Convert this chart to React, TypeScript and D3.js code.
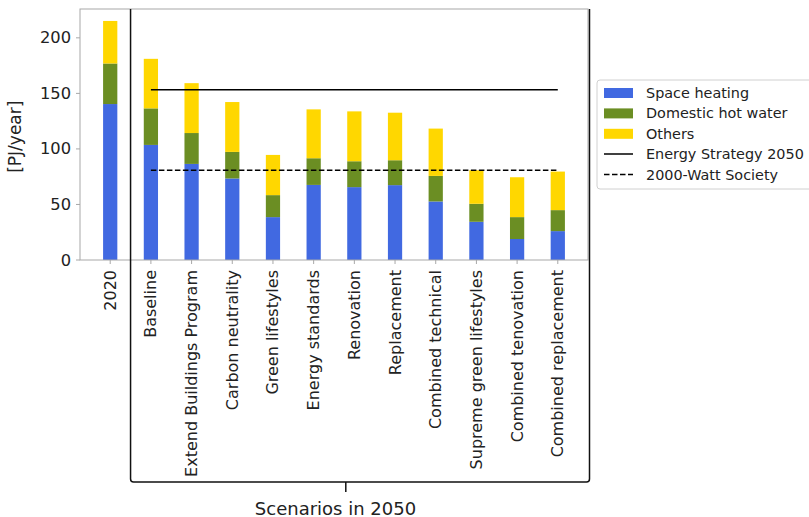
import React from "react";
import * as d3 from "d3";

const categories = [
  "2020",
  "Baseline",
  "Extend Buildings Program",
  "Carbon neutrality",
  "Green lifestyles",
  "Energy standards",
  "Renovation",
  "Replacement",
  "Combined technical",
  "Supreme green lifestyles",
  "Combined tenovation",
  "Combined replacement",
];

// Stacked components, PJ/year
const spaceHeating = [140.4, 103.6, 86.5, 73.4, 38.6, 67.6, 65.6, 67.4, 52.7, 34.4, 18.9, 26.0];
const domesticHotWater = [36.5, 32.9, 27.8, 23.9, 19.8, 24.0, 23.3, 22.4, 23.0, 16.2, 19.7, 18.9];
const others = [38.3, 44.6, 44.9, 44.9, 36.2, 44.0, 44.9, 42.8, 42.6, 30.2, 35.9, 34.7];

const seriesNames = ["Space heating", "Domestic hot water", "Others"];
const seriesColors = ["#4169E1", "#6B8E23", "#FFD700"];

const energyStrategy2050 = 153.3;
const wattSociety2000 = 80.8;

const yTicks = [0, 50, 100, 150, 200];

export default function App() {
  const W = 809;
  const H = 517;
  const left = 80;
  const right = 588;
  const top = 9;
  const bottom = 260;
  const font = "DejaVu Sans, sans-serif";
  const spine = "#a8a8a8";

  const n = categories.length;
  const barW = 0.35;
  const pad = (n - 1 + barW) * 0.05 + barW / 2;
  const x = d3.scaleLinear().domain([-pad, n - 1 + pad]).range([left, right]);

  const totals = categories.map((_, i) => spaceHeating[i] + domesticHotWater[i] + others[i]);
  const yMax = (d3.max(totals) as number) * 1.05;
  const y = d3.scaleLinear().domain([0, yMax]).range([bottom, top]);

  const rows = categories.map((c, i) => ({
    cat: i,
    s0: spaceHeating[i],
    s1: domesticHotWater[i],
    s2: others[i],
  }));
  const stack = d3.stack<any>().keys(["s0", "s1", "s2"]);
  const layers = stack(rows);

  const bw = x(barW) - x(0);

  const lineX0 = x(1);
  const lineX1 = x(n - 1);

  const bracketLeft = x(0.5);
  const bracketRight = right + 1.5;
  const bracketBottom = 482;
  const bracketTick = bracketLeft + (bracketRight - bracketLeft) * 0.469;

  const legX = 597;
  const legY = 80;
  const legFont = 14.4;

  return (
    <svg width={W} height={H} style={{ position: "absolute", left: 0, top: 0, background: "#fff" }}>
      {/* bars */}
      {layers.map((layer, li) =>
        layer.map((d, i) => (
          <rect
            key={`${li}-${i}`}
            x={x(i) - bw / 2}
            y={y(d[1])}
            width={bw}
            height={y(d[0]) - y(d[1])}
            fill={seriesColors[li]}
          />
        ))
      )}

      {/* reference lines */}
      <line x1={lineX0} x2={lineX1} y1={y(energyStrategy2050)} y2={y(energyStrategy2050)} stroke="#000" strokeWidth={1.5} />
      <line
        x1={lineX0}
        x2={lineX1}
        y1={y(wattSociety2000)}
        y2={y(wattSociety2000)}
        stroke="#000"
        strokeWidth={1.5}
        strokeDasharray="5.5,2.5"
      />

      {/* axes frame */}
      <rect x={left} y={top} width={right - left} height={bottom - top} fill="none" stroke={spine} strokeWidth={1} />

      {/* y ticks */}
      {yTicks.map((t) => (
        <g key={t}>
          <line x1={left - 4} x2={left} y1={y(t)} y2={y(t)} stroke={spine} />
          <text x={left - 9} y={y(t)} textAnchor="end" dominantBaseline="central" fontFamily={font} fontSize={16.3} fill="#222">
            {t}
          </text>
        </g>
      ))}
      <text
        transform={`translate(${15},${136.7}) rotate(-90)`}
        textAnchor="middle"
        dominantBaseline="central"
        fontFamily={font}
        fontSize={17}
        fill="#222"
      >
        [PJ/year]
      </text>

      {/* x ticks */}
      {categories.map((c, i) => (
        <g key={c}>
          <line x1={x(i)} x2={x(i)} y1={bottom} y2={bottom + 4} stroke={spine} />
          <text
            transform={`translate(${x(i)},${bottom + 10}) rotate(-90)`}
            textAnchor="end"
            dominantBaseline="central"
            fontFamily={font}
            fontSize={16}
            fill="#222"
          >
            {c}
          </text>
        </g>
      ))}

      {/* scenario bracket */}
      <path
        d={`M${bracketLeft},${top} L${bracketLeft},${bracketBottom - 3} Q${bracketLeft},${bracketBottom} ${bracketLeft + 3},${bracketBottom}
            L${bracketRight - 3},${bracketBottom} Q${bracketRight},${bracketBottom} ${bracketRight},${bracketBottom - 3} L${bracketRight},${top}`}
        fill="none"
        stroke="#111"
        strokeWidth={1.5}
      />
      <line x1={bracketTick} x2={bracketTick} y1={bracketBottom} y2={bracketBottom + 10} stroke="#111" strokeWidth={1.5} />
      <text x={335.5} y={508} textAnchor="middle" dominantBaseline="central" fontFamily={font} fontSize={18} fill="#222">
        Scenarios in 2050
      </text>

      {/* legend */}
      <rect x={legX} y={legY} width={230} height={109} rx={3} fill="#fff" stroke="#d0d0d0" />
      {seriesNames.map((s, i) => (
        <g key={s}>
          <rect x={legX + 7} y={legY + 8 + i * 20.4} width={29} height={10} fill={seriesColors[i]} />
          <text x={legX + 49} y={legY + 13 + i * 20.4} dominantBaseline="central" fontFamily={font} fontSize={legFont} fill="#222">
            {s}
          </text>
        </g>
      ))}
      <line x1={legX + 7} x2={legX + 36} y1={legY + 74} y2={legY + 74} stroke="#000" strokeWidth={1.5} />
      <text x={legX + 49} y={legY + 74} dominantBaseline="central" fontFamily={font} fontSize={legFont} fill="#222">
        Energy Strategy 2050
      </text>
      <line x1={legX + 7} x2={legX + 36} y1={legY + 94.5} y2={legY + 94.5} stroke="#000" strokeWidth={1.5} strokeDasharray="5.5,2.5" />
      <text x={legX + 49} y={legY + 94.5} dominantBaseline="central" fontFamily={font} fontSize={legFont} fill="#222">
        2000-Watt Society
      </text>
    </svg>
  );
}
